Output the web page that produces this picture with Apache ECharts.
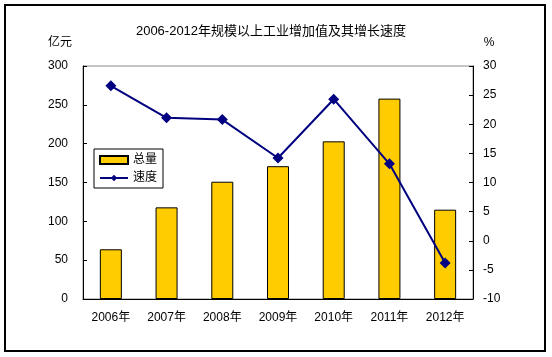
<!DOCTYPE html>
<html><head><meta charset="utf-8">
<script src="https://cdn.jsdelivr.net/npm/echarts@6/dist/echarts.min.js"></script>
<style>html,body{margin:0;padding:0;background:#fff}#c{width:552px;height:357px}</style>
</head><body><div id="c"></div>
<script>
const categories = ['2006年','2007年','2008年','2009年','2010年','2011年','2012年'];
const totalValues = [64, 118, 151, 171, 203, 258, 115];
const speedValues = [26.6, 21.1, 20.8, 14.2, 24.3, 13.2, -3.8];
const leftTicks = [0, 300, 50];
const rightTicks = [-10, 30, 5];
const FONT = '"Liberation Sans","Noto Sans CJK SC",sans-serif';
const chart = echarts.init(document.getElementById('c'));
chart.setOption({
  animation: false,
  textStyle: {fontFamily: FONT, color: '#000'},
  title: {text: '2006-2012年规模以上工业增加值及其增长速度', left: 266, top: 20, textAlign: 'center',
    textStyle: {fontSize: 13, fontWeight: 'normal', color: '#000', fontFamily: FONT}},
  graphic: [{type: 'rect', shape: {x: 5, y: 5, width: 540, height: 346}, style: {fill: 'none', stroke: '#000', lineWidth: 2}, silent: true}],
  legend: {orient: 'vertical', left: 94, top: 149, padding: [5, 6, 4, 5], itemGap: 6,
    borderColor: '#000', borderWidth: 1, itemWidth: 28, itemHeight: 8,
    textStyle: {fontSize: 12, color: '#000', fontFamily: FONT},
    data: [{name: '总量', icon: 'rect'}, {name: '速度'}]},
  grid: {left: 83, right: 79, top: 66, bottom: 58, show: true, borderColor: '#888', borderWidth: 1},
  xAxis: {type: 'category', data: categories,
    axisLine: {lineStyle: {color: '#000'}},
    axisTick: {inside: true, length: 4, lineStyle: {color: '#000'}},
    axisLabel: {color: '#000', fontSize: 12, margin: 13, fontFamily: FONT}},
  yAxis: [
    {type: 'value', min: leftTicks[0], max: leftTicks[1], interval: leftTicks[2],
      name: '亿元', nameLocation: 'end', nameGap: 17, nameTextStyle: {fontSize: 12, color: '#000', align: 'center', padding: [0, 46, 0, 0]},
      splitLine: {show: false}, axisLine: {show: true, lineStyle: {color: '#000'}},
      axisTick: {show: true, inside: true, length: 4, lineStyle: {color: '#000'}},
      axisLabel: {color: '#000', fontSize: 12, margin: 15, fontFamily: FONT}},
    {type: 'value', min: rightTicks[0], max: rightTicks[1], interval: rightTicks[2],
      name: '%', nameLocation: 'end', nameGap: 17, nameTextStyle: {fontSize: 12, color: '#000', align: 'center', padding: [0, 0, 0, 32]},
      splitLine: {show: false}, axisLine: {show: true, lineStyle: {color: '#000'}},
      axisTick: {show: true, inside: true, length: 4, lineStyle: {color: '#000'}},
      axisLabel: {color: '#000', fontSize: 12, margin: 10, fontFamily: FONT}}
  ],
  series: [
    {name: '总量', type: 'bar', data: totalValues, barWidth: 22,
      itemStyle: {color: '#FFCC00', borderColor: '#000', borderWidth: 1}},
    {name: '速度', type: 'line', yAxisIndex: 1, data: speedValues,
      symbol: 'diamond', symbolSize: 11,
      lineStyle: {color: '#000080', width: 2}, itemStyle: {color: '#000080'}}
  ]
});
</script></body></html>
